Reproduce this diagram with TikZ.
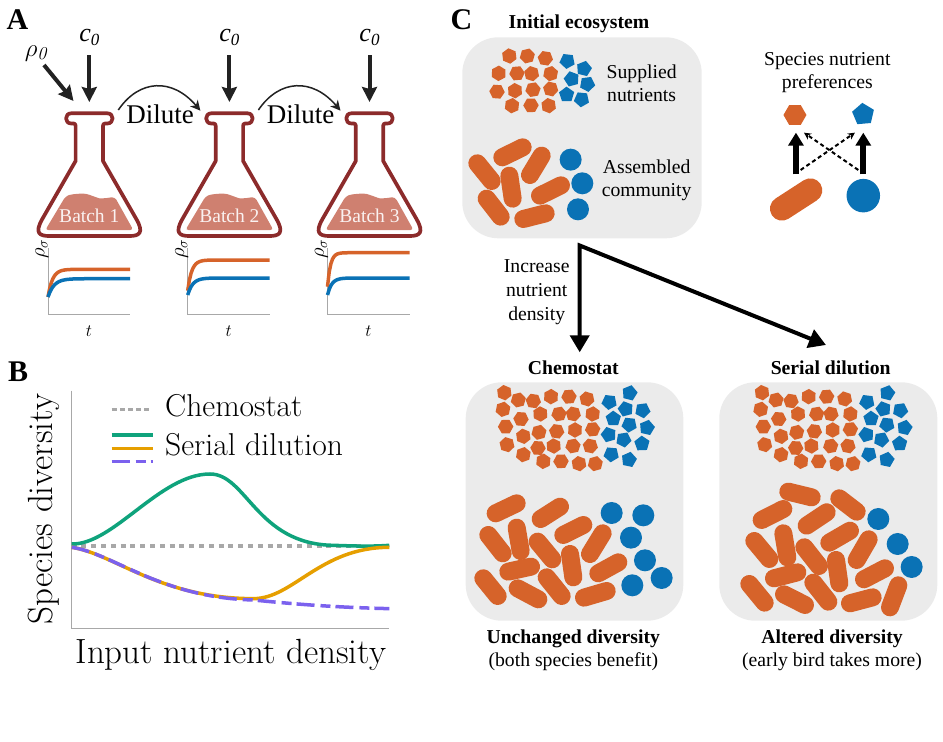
\documentclass[tikz,border=0pt]{standalone}
\usepackage{fontspec}
\usepackage{amsmath}
\usetikzlibrary{calc,positioning,shapes.geometric,arrows.meta}
\newfontfamily\timesfont{Liberation Serif}
\definecolor{flaskred}{HTML}{8C2B2B}
\definecolor{liquid}{HTML}{CF8070}
\definecolor{rodorange}{HTML}{D6632A}
\definecolor{spblue}{HTML}{0A72B5}
\definecolor{boxgrey}{HTML}{EBEBEB}
\definecolor{axisgrey}{HTML}{A8A8A8}
\definecolor{teal1}{HTML}{0FA37C}
\definecolor{amber1}{HTML}{E69F00}
\definecolor{violet1}{HTML}{7B61EE}
\definecolor{inkgrey}{HTML}{222222}
\newcommand{\fsz}[1]{\fontsize{#1}{#1}\selectfont}
\newcommand{\czero}{\textit{c}\raisebox{-3.5pt}{\fsz{17}\textit{0}}}
\newcommand{\growth}[4]{%
	\draw[curve,#1] plot[domain=0:82,samples=50] (\x,{#3+(#2-#3)*exp(-\x/#4)});}
\newcommand{\nutrients}{%
	\foreach \x/\y [count=\i,evaluate=\i as \r using {mod(\i*37,60)}] in {163/128,205/150,250/153,303/140,357/140,411/147,159/178,213/207,271/192,327/192,370/192,428/192,167/230,220/259,267/247,320/244,375/240,428/238,171/284,220/314,264/294,311/288,369/288,421/288,280/334,333/334,387/341,436/341}
		\node[hexa,shape border rotate=\r] (h\i) at (\x,\y) {};
	\foreach \x/\y [count=\i,evaluate=\i as \r using {mod(\i*29,72)}] in {478/156,539/129,527/177,578/181,490/206,538/224,591/233,476/254,521/269,576/281,484/313,537/329}
		\node[penta,shape border rotate=\r] (p\i) at (\x,\y) {};
}
\tikzset{
	txt/.style={font=\timesfont\fsz{#1},inner sep=0pt,align=center},
	txt/.default=19.7,
	title/.style={font=\timesfont\bfseries\fsz{19.7},inner sep=0pt,anchor=base},
	letter/.style={font=\timesfont\bfseries\fsz{30},inner sep=0pt,anchor=base west},
	feed/.style={line width=4pt,inkgrey,-{Stealth[length=15pt,width=15pt,inset=2pt]}},
	dilute/.style={line width=1.5pt,inkgrey,-{Stealth[length=10pt,width=10pt,inset=3pt]}},
	axisline/.style={line width=0.9pt,axisgrey},
	curve/.style={line width=3.5pt},
	eco/.style={rounded corners=36pt,fill=boxgrey,inner sep=0pt},
	hexa/.style={regular polygon,regular polygon sides=6,fill=rodorange,minimum size=15.5pt,inner sep=0pt},
	penta/.style={regular polygon,regular polygon sides=5,fill=spblue,minimum size=16pt,inner sep=0pt},
	rod/.style={line width=18pt,line cap=round,rodorange},
	cell/.style={circle,fill=spblue,minimum size=22pt,inner sep=0pt},
	flask/.pic={
		\fill[liquid,rounded corners=3pt] (-24,196.7) .. controls (-18,194) and (-6,193) .. (0.7,195) .. controls (6,197) and (10,198.5) .. (14,198.3) .. controls (18,198) and (22,197.3) .. (25.7,197.3) -- (44,230) -- (-44,230) -- cycle;
		\draw[flaskred,line width=3.7pt,line join=round] (-18,113.3) -- (18,113.3) .. controls (25,113.3) and (25,123.5) .. (18,123.5) -- (15.7,123.5) .. controls (14.2,123.5) and (13.7,124.5) .. (13.7,126) -- (13.7,161) -- (47,219) .. controls (55,233) and (50,236) .. (40,236) -- (-40,236) .. controls (-50,236) and (-55,233) .. (-47,219) -- (-13.7,161) -- (-13.7,126) .. controls (-13.7,124.5) and (-14.2,123.5) .. (-15.7,123.5) -- (-18,123.5) .. controls (-25,123.5) and (-25,113.3) .. (-18,113.3) -- cycle;
	}
}
\begin{document}
\begin{tikzpicture}[x=1pt,y=-1pt]
	\path[use as bounding box] (0,0) rectangle (943,742);

	\node[letter] (A) at (6.5,29) {A};
	\node[letter] (B) at (8,381.5) {B};
	\node[letter] (C) at (450.5,29) {C};

	\foreach \i/\x in {1/89.3,2/229.4,3/369.5} {
		\path (\x,0) pic {flask};
		\node[txt=19.5,text=white!90!liquid,anchor=base] (b\i) at (\x,222.5) {Batch \i};
		\node[txt=26,anchor=base] (c\i) at (\x,41.5) {\czero};
		\coordinate (s\i) at (\x,55);
		\coordinate (t\i) at (\x,102);
		\coordinate (l\i) at ($(\x,110)+(29,0)$);
		\coordinate (r\i) at ($(\x,110.7)+(-29,0)$);
		\path[feed] (s\i) edge (t\i);
	}
	\node[txt=26,anchor=base] (rho) at (36,56) {$\rho_{\mathit{0}}$};
	\coordinate (rs) at (44,65);
	\coordinate (rt) at (73.5,101);
	\path[feed] (rs) edge (rt);
	\draw[dilute] (l1) .. controls +(21,-31) and +(-28,-33) .. (r2);
	\draw[dilute] (l2) .. controls +(21,-31) and +(-28,-33) .. (r3);
	\node[txt=27,anchor=base] (d1) at (160,123.5) {Dilute};
	\node[txt=27,anchor=base] (d2) at (300.5,123.5) {Dilute};

	\foreach \i/\x/\oa/\ob/\ta/\ba/\bb/\tb in {1/48/297/269.3/4.5/297/278.7/6,2/187.7/290.7/260/4/295/278/5,3/327.5/286.7/252.7/3/295/278/4.2} {
		\begin{scope}[shift={(\x,0)}]
			\draw[axisline] (0,248) -- (0,314) -- (82,314);
			\growth{rodorange}{\oa}{\ob}{\ta}
			\growth{spblue}{\ba}{\bb}{\tb}
			\node[rotate=90,inner sep=0pt] (rs\i) at (-6,249) {\fsz{20}$\rho_\sigma$};
			\node[inner sep=0pt,anchor=base] (tt\i) at (41,336) {\fsz{18}$t$};
		\end{scope}
	}

	\draw[axisline] (71.7,390.7) -- (71.7,628.3) -- (389.3,628.3);
	\begin{scope}[shift={(0,350)},x=0.3333pt,y=-0.3333pt]
		\draw[curve,axisgrey,dash pattern=on 5pt off 4.8pt] (215,588) -- (1090,588);
		\draw[curve,teal1] (215,582) .. controls (340,585) and (480,372) .. (630,372) .. controls (740,372) and (770,583) .. (1000,586) .. controls (1060,588) and (1110,590) .. (1168,586);
		\draw[curve,amber1] (215,592) .. controls (340,610) and (480,746) .. (760,746) .. controls (880,746) and (960,592) .. (1168,592);
		\draw[curve,violet1,dash pattern=on 18pt off 6pt on 10pt off 5pt] (215,592) .. controls (340,610) and (480,743) .. (760,750) .. controls (880,762) and (1000,772) .. (1168,776);
		\draw[curve,axisgrey,dash pattern=on 5pt off 3.2pt] (335,178) -- (458,178);
		\draw[curve,teal1] (335,255) -- (458,255);
		\draw[curve,amber1] (335,295) -- (458,295);
		\draw[curve,violet1,dash pattern=on 18pt off 6pt on 10pt off 5pt] (335,335) -- (458,335);
	\end{scope}
	\node[font=\fsz{31.6},inner sep=0pt,anchor=base west] (l1b) at (165,416.5) {Chemostat};
	\node[font=\fsz{31.6},inner sep=0pt,anchor=base west] (l2b) at (165,455) {Serial dilution};
	\node[font=\fsz{35},inner sep=0pt,anchor=base,rotate=90] (ylab) at (52.7,509) {Species diversity};
	\node[font=\fsz{35},inner sep=0pt,anchor=base] (xlab) at (230.8,663) {Input nutrient density};

	\node[eco,minimum width=239.4pt,minimum height=201pt] (ini) at (582,137.8) {};
	\node[eco,minimum width=217.6pt,minimum height=238.4pt] (chem) at (574.5,501.5) {};
	\node[eco,minimum width=218pt,minimum height=238.4pt] (ser) at (828.3,501.5) {};
	\node[title] (i1) at (579,28) {Initial ecosystem};
	\node[title] (i2) at (573.3,374) {Chemostat};
	\node[title] (i3) at (830.7,374) {Serial dilution};
	\node[title] (i4) at (573.3,643) {Unchanged diversity};
	\node[title] (i5) at (832,643) {Altered diversity};
	\node[txt,anchor=base] (i6) at (573.3,666.5) {(both species benefit)};
	\node[txt,anchor=base] (i7) at (832,666.5) {(early bird takes more)};

	\begin{scope}[shift={(440,0)},x=0.3333pt,y=-0.3333pt]
		\foreach \x/\y [count=\i,evaluate=\i as \r using {mod(\i*37,60)}] in {208/168,262/168,316/175,176/220,231/220,275/221,332/221,171/275,225/272,279/269,332/267,216/317,273/316,326/317}
			\node[hexa,shape border rotate=\r] (ih\i) at (\x,\y) {};
		\foreach \x/\y [count=\i,evaluate=\i as \r using {mod(\i*29,72)}] in {382/183,432/206,395/237,442/252,380/284,425/298}
			\node[penta,shape border rotate=\r] (ip\i) at (\x,\y) {};
		\foreach \xa/\ya/\xb/\yb in {112/490/155/543,187/472/248/442,305/467/270/525,208/527/218/596,300/587/363/556,140/596/182/650,250/657/317/640}
			\draw[rod] (\xa,\ya) -- (\xb,\yb);
		\foreach \x/\y [count=\i] in {392/479,427/550,414/628}
			\node[cell] (ic\i) at (\x,\y) {};
		\node[txt] (sn) at (605,250) {Supplied\\[3.6pt]nutrients};
		\node[txt] (ac) at (620,541) {Assembled\\[3.6pt]community};
		\node[txt] (pr) at (1162,217) {Species nutrient\\[3.6pt]preferences};
		\node[hexa,minimum size=23pt] (ph) at (1065,345) {};
		\node[penta,minimum size=23pt,shape border rotate=5] (pp) at (1270,343) {};
		\draw[rod,line width=24pt] (1026,626) -- (1111,571);
		\node[cell,minimum size=33.5pt] (pc) at (1270,587) {};
		\coordinate (ra) at (1068,523);
		\coordinate (rb) at (1082,510);
		\coordinate (ca) at (1270,523);
		\coordinate (cb) at (1255,510);
		\coordinate (ha) at (1068,398);
		\coordinate (hb) at (1092,398);
		\coordinate (pa) at (1270,398);
		\coordinate (pb) at (1245,398);
	\end{scope}
	\path[line width=6pt,-{Triangle[length=13pt,width=15pt]}] (ra) edge (ha) (ca) edge (pa);
	\path[line width=2pt,dash pattern=on 4pt off 3pt,-{Stealth[length=7pt,width=7pt]}] (rb) edge (pb) (cb) edge (hb);

	\coordinate (fork) at (579.7,245.5);
	\coordinate (chemtip) at (579.7,352.3);
	\coordinate (sertip) at (826,345);
	\draw[line width=4pt,{Triangle[length=17pt,width=19pt]}-{Triangle[length=17pt,width=19pt]}] (chemtip) -- (fork) -- (sertip);
	\node[txt] (inc) at (536.7,292) {Increase\\[4.3pt]nutrient\\[4.3pt]density};

	\begin{scope}[shift={(450,350)},x=0.3333pt,y=-0.3333pt]
		\nutrients
		\foreach \xa/\ya/\xb/\yb in {137/490/200/460,272/507/330/470,340/555/400/525,115/555/158/610,200/533/212/603,263/575/307/628,360/612/370/682,458/550/420/612,175/665/243/650,445/670/505/637,100/685/143/738,203/715/265/748,290/682/335/738,402/743/470/723}
			\draw[rod] (\xa,\ya) -- (\xb,\yb);
		\foreach \x/\y [count=\i] in {485/489,580/496,543/563,585/631,635/684,547/706}
			\node[cell] (cc\i) at (\x,\y) {};
	\end{scope}
	\begin{scope}[shift={(707.7,350)},x=0.3333pt,y=-0.3333pt]
		\nutrients
	\end{scope}
	\begin{scope}[shift={(700,350)},x=0.3333pt,y=-0.3333pt]
		\foreach \xa/\ya/\xb/\yb in {265/425/335/442,185/510/250/477,320/527/380/487,418/445/470/485,388/578/450/542,163/573/208/627,250/550/262/622,313/592/357/648,408/630/418/700,506/568/470/630,222/685/292/667,492/688/555/655,148/702/194/758,252/733/315/765,340/698/385/755,450/760/518/742,595/706/570/772}
			\draw[rod] (\xa,\ya) -- (\xb,\yb);
		\foreach \x/\y [count=\i] in {535/507,593/582,635/651}
			\node[cell] (sc\i) at (\x,\y) {};
	\end{scope}
\end{tikzpicture}
\end{document}
